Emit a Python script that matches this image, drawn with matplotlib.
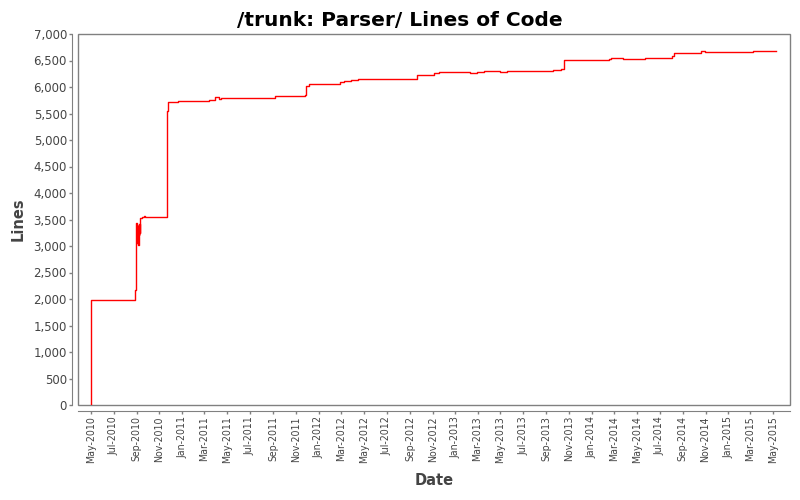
import matplotlib
matplotlib.use("Agg")
import matplotlib.pyplot as plt
import matplotlib.dates as mdates
import matplotlib.ticker as mticker
import pandas as pd

# lines of code over time
dates = [
    "2010-05-01", "2010-05-02", "2010-08-28", "2010-08-31", "2010-09-01",
    "2010-09-02", "2010-09-03", "2010-09-04", "2010-09-05", "2010-09-06",
    "2010-09-07", "2010-09-08", "2010-09-09", "2010-09-11", "2010-09-15",
    "2010-09-21", "2010-09-24", "2010-11-22", "2010-11-24", "2010-12-21",
    "2011-03-14", "2011-03-30", "2011-04-10", "2011-04-15", "2011-09-07",
    "2011-11-25", "2011-11-29", "2011-12-07", "2011-12-15", "2012-02-27",
    "2012-03-10", "2012-03-28", "2012-04-14", "2012-09-20", "2012-11-05",
    "2012-11-18", "2013-02-08", "2013-02-28", "2013-03-17", "2013-04-29",
    "2013-05-20", "2013-09-18", "2013-10-09", "2013-10-17", "2014-02-16",
    "2014-02-20", "2014-03-26", "2014-05-24", "2014-08-04", "2014-08-09",
    "2014-10-19", "2014-10-30", "2015-03-09", "2015-05-08",
]
lines = [
    0, 1975, 2170, 3428, 3050,
    3400, 3100, 3380, 3020, 3350,
    3200, 3420, 3250, 3522, 3547,
    3566, 3547, 5547, 5717, 5736,
    5755, 5805, 5767, 5786, 5824,
    5849, 6013, 6050, 6066, 6085,
    6107, 6126, 6145, 6220, 6256,
    6277, 6264, 6283, 6302, 6283,
    6302, 6321, 6340, 6502, 6521,
    6540, 6521, 6540, 6578, 6635,
    6673, 6654, 6673, 6673,
]

x = pd.to_datetime(dates)

GRAY = "#808080"
TEXT = "#444444"

fig = plt.figure(figsize=(8, 5), dpi=100)
ax = fig.add_axes([0.0975, 0.19, 0.89, 0.742])

ax.step(x, lines, where="post", color="red", linewidth=1.0)

ax.set_xlim(pd.Timestamp("2010-03-28"), pd.Timestamp("2015-06-15"))
ax.set_ylim(0, 7000)

# plot box + detached axis lines, JFreeChart style
ax.patch.set_edgecolor(GRAY)
ax.patch.set_linewidth(1.0)
for side in ("top", "right"):
    ax.spines[side].set_visible(False)
for side in ("left", "bottom"):
    ax.spines[side].set_position(("outward", 4))
    ax.spines[side].set_color(GRAY)

ax.yaxis.set_major_locator(mticker.MultipleLocator(500))
ax.yaxis.set_major_formatter(mticker.FuncFormatter(lambda v, p: f"{v:,.0f}"))
ax.xaxis.set_major_locator(mdates.MonthLocator(bymonth=[1, 3, 5, 7, 9, 11]))
ax.xaxis.set_major_formatter(mdates.DateFormatter("%b-%Y"))

ax.tick_params(axis="both", length=2, width=1, color=GRAY, labelcolor=TEXT, pad=2)
ax.tick_params(axis="y", labelsize=8.5)
ax.tick_params(axis="x", labelsize=7.6)
plt.setp(ax.get_xticklabels(), rotation=90, fontstretch="condensed")

ax.set_xlabel("Date", fontsize=10.5, fontweight="bold", color=TEXT, labelpad=7)
ax.set_ylabel("Lines", fontsize=10.5, fontweight="bold", color=TEXT, labelpad=6)

fig.suptitle("/trunk: Parser/ Lines of Code", fontsize=14.5, fontweight="bold",
             y=0.978)

fig.savefig("out.png", dpi=100)
